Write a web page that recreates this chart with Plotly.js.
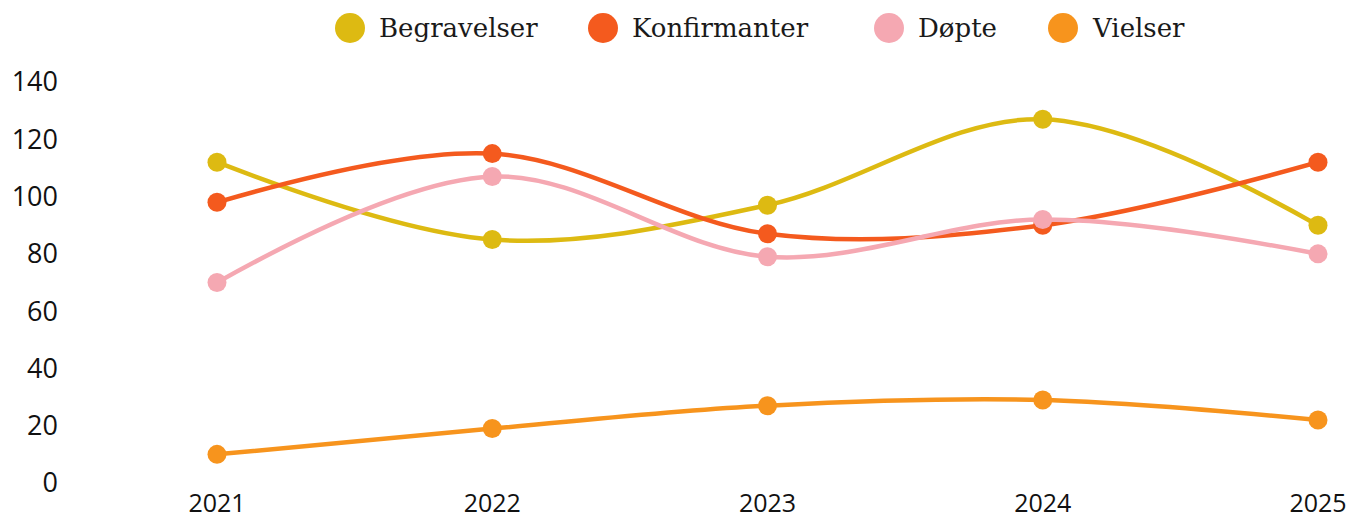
<!DOCTYPE html>
<html><head><meta charset="utf-8">
<script src="https://cdn.plot.ly/plotly-3.0.1.min.js"></script>
<style>html,body{margin:0;padding:0;background:#fff}#chart{width:1355px;height:521px}</style>
</head><body><div id="chart"></div>
<script>
const years = [2021, 2022, 2023, 2024, 2025];
const seriesNames = ["Begravelser", "Konfirmanter", "Døpte", "Vielser"];
const begravelser = [112, 85, 97, 127, 90];
const konfirmanter = [98, 115, 87, 90, 112];
const dopte = [70, 107, 79, 92, 80];
const vielser = [10, 19, 27, 29, 22];
const yTicks = [0, 20, 40, 60, 80, 100, 120, 140];
const colors = ["#DDBA12", "#F45A1E", "#F5A8B2", "#F7941D"];
const values = [begravelser, konfirmanter, dopte, vielser];

// layout geometry (pixels)
const W = 1355, H = 521;
const M = {l: 217, r: 37, t: 82, b: 38};
const pw = W - M.l - M.r, ph = H - M.t - M.b;
const legendCircleX = [350, 603, 889, 1063];
const legendY = 28;
const px2paperX = p => (p - M.l) / pw;
const px2paperY = p => (H - M.b - p) / ph;

const traces = values.map((v, i) => ({
  x: years, y: v, type: "scatter", mode: "lines+markers", name: seriesNames[i],
  line: {color: colors[i], width: 4.5, shape: "spline", smoothing: 1},
  marker: {color: colors[i], size: 19},
  showlegend: false, cliponaxis: false
}));

const shapes = seriesNames.map((n, i) => ({
  type: "circle", xref: "paper", yref: "paper",
  xsizemode: "pixel", ysizemode: "pixel",
  xanchor: px2paperX(legendCircleX[i]), yanchor: px2paperY(legendY),
  x0: -15, x1: 15, y0: -15, y1: 15,
  fillcolor: colors[i], line: {width: 0}
}));
const annotations = seriesNames.map((n, i) => ({
  text: n, xref: "paper", yref: "paper",
  x: px2paperX(legendCircleX[i] + 27), y: px2paperY(legendY),
  xanchor: "left", yanchor: "middle", showarrow: false,
  font: {family: "DejaVu Serif", size: 26, color: "#1a1a1a"}
}));

const layout = {
  width: W, height: H, margin: M,
  paper_bgcolor: "#fff", plot_bgcolor: "#fff",
  showlegend: false, shapes: shapes, annotations: annotations,
  xaxis: {
    type: "linear", range: [2021, 2025], tickvals: years, ticktext: years.map(String),
    showgrid: false, zeroline: false, showline: false, ticks: "",
    tickfont: {family: "Open Sans", size: 25, color: "#111"},
    ticklabelstandoff: 3
  },
  yaxis: {
    range: [0, 140], tickvals: yTicks, showgrid: false, zeroline: false, showline: false, ticks: "",
    tickfont: {family: "Open Sans", size: 27, color: "#111"},
    ticklabelstandoff: 158
  }
};
Plotly.newPlot("chart", traces, layout, {displayModeBar: false, staticPlot: true});
</script></body></html>
